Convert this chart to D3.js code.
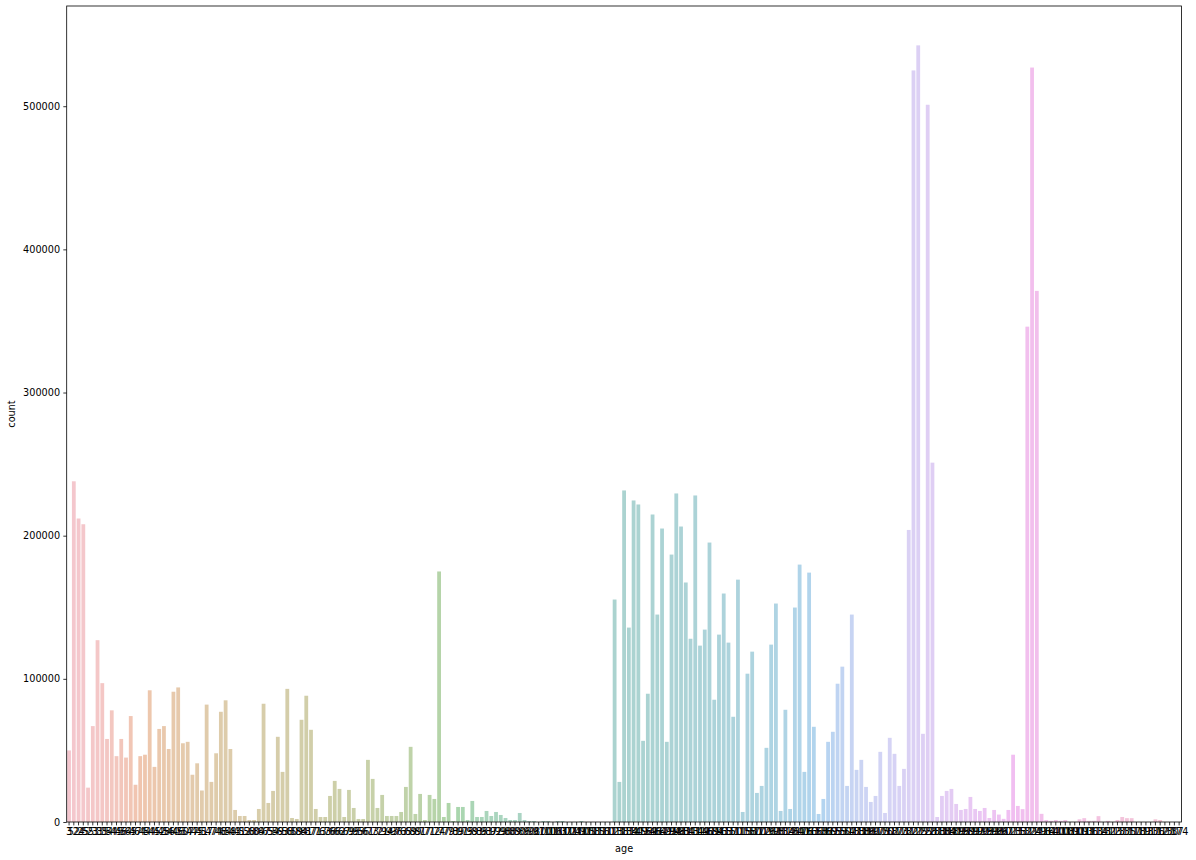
<!DOCTYPE html>
<html>
<head>
<meta charset="utf-8">
<script src="https://cdn.jsdelivr.net/npm/d3@7"></script>
<style>
  html, body { margin: 0; padding: 0; background: #fff; }
  svg text { font-family: "DejaVu Sans", sans-serif; fill: #000; }
</style>
</head>
<body>
<svg id="chart" width="1196" height="860"></svg>
<script>
// ---------- data ----------
const ageLabels = [
  "3","52","24","25","55","23","33","35","34","54",
  "45","46","54","65","47","64","44","54","45","42",
  "48","56","40","46","50","57","47","45","41","57",
  "47","74","48","64","58","43","41","52","58","60",
  "84","67","65","54","59","63","58","60","59","84",
  "81","87","71","73","63","76","66","62","67","69",
  "95","95","56","61","73","72","71","94","93","96",
  "73","65","69","89","81","77","71","72","74","77",
  "79","73","89","91","75","99","83","85","93","87",
  "92","99","98","88","89","80","86","90","98","97",
  "100","101","106","103","107","102","104","109","100","105",
  "108","115","116","110","112","113","138","113","134","130",
  "149","156","159","146","164","169","179","194","198","193",
  "184","143","131","149","146","169","184","193","163","157",
  "150","111","115","158","150","170","172","176","192","198",
  "181","134","126","134","140","176","163","166","158","136",
  "169","165","155","150","157","147","183","188","186","190",
  "197","175","170","162","187","173","172","182","177","125",
  "125","128","127","183","188","184","180","189","195","199",
  "189","197","190","195","199","198","196","197","107","123",
  "133","152","132","124","129","116","114","161","140","100",
  "108","109","100","109","103","106","113","114","121","131",
  "123","127","137","135","117","118","119","111","137","136",
  "112","127","130","137","174"
];

const counts = [
  50000,238000,212000,208000,24000,67000,127000,97000,58000,78000,
  46000,58000,45000,74000,26000,46000,47000,92000,38500,65000,
  67000,51000,91000,94000,55000,56000,33000,41000,22000,82000,
  28000,48000,77000,85000,51000,8400,4200,4200,1400,1400,
  9100,82600,13300,21700,59500,35000,93000,2800,2100,71400,
  88200,64400,9100,3500,3500,18200,28700,23100,3500,22400,
  9800,2100,2100,43400,30100,9800,18900,4200,4200,4200,
  7000,24500,52500,5600,19600,1400,18900,16100,175000,3500,
  13300,700,10500,10500,1400,14700,3500,3500,7700,4200,
  7000,4900,2800,1400,1400,6300,1400,700,700,0,
  700,700,0,700,700,0,0,0,700,0,
  0,0,0,0,0,155400,28000,231600,135800,224600,
  221800,56700,89600,214800,144900,205000,56000,186800,229500,206400,
  167300,128000,228100,123200,134400,195200,85400,130900,159600,125300,
  73500,169300,7000,103600,119000,20300,25200,51800,123900,152600,
  7700,78400,9100,149800,179800,35000,174200,66500,5600,16100,
  56000,63000,96600,108500,25200,144900,36400,43400,24500,14000,
  18200,49000,6300,58800,47600,25200,37100,204000,525000,542500,
  61600,501000,251000,3500,18200,21700,23100,12600,8400,9100,
  17500,9100,7700,9800,2800,8400,5200,2200,8400,47000,
  11200,9000,346000,527000,371000,5700,1400,800,1400,800,
  1400,0,0,1900,2700,800,800,4100,0,800,
  0,1400,3500,2700,2700,0,0,0,0,1900,
  1400,0,0,0,0
];

const yTicks = [0, 100000, 200000, 300000, 400000, 500000];

// ---------- HUSL (HSLuv) palette, seaborn style ----------
const M = [
  [3.2409699419045214, -1.5373831775700935, -0.49861076029300328],
  [-0.96924363628087983, 1.8759675015077207, 0.041555057407175613],
  [0.055630079696993609, -0.20397695888897657, 1.0569715142428786]
];
const refU = 0.19783000664283681, refV = 0.468319994938791;
const kappa = 903.2962962962963, epsilon = 0.0088564516790356308;
function getBounds(L) {
  const res = [];
  const sub1 = Math.pow(L + 16, 3) / 1560896;
  const sub2 = sub1 > epsilon ? sub1 : L / kappa;
  for (let c = 0; c < 3; c++) {
    const [m1, m2, m3] = M[c];
    for (let t = 0; t < 2; t++) {
      const top1 = (284517 * m1 - 94839 * m3) * sub2;
      const top2 = (838422 * m3 + 769860 * m2 + 731718 * m1) * L * sub2 - 769860 * t * L;
      const bottom = (632260 * m3 - 126452 * m2) * sub2 + 126452 * t;
      res.push([top1 / bottom, top2 / bottom]);
    }
  }
  return res;
}
function maxChroma(L, H) {
  const hrad = H / 360 * Math.PI * 2;
  let min = Infinity;
  for (const [slope, intercept] of getBounds(L)) {
    const len = intercept / (Math.sin(hrad) - slope * Math.cos(hrad));
    if (len >= 0) min = Math.min(min, len);
  }
  return min;
}
function fromLinear(c) {
  return c <= 0.0031308 ? 12.92 * c : 1.055 * Math.pow(c, 1 / 2.4) - 0.055;
}
function husl(H, S, L) {
  const C = maxChroma(L, H) / 100 * S;
  const hrad = H / 360 * Math.PI * 2;
  const U = Math.cos(hrad) * C, V = Math.sin(hrad) * C;
  const varU = U / (13 * L) + refU, varV = V / (13 * L) + refV;
  const Y = L <= 8 ? L / kappa : Math.pow((L + 16) / 116, 3);
  const X = 0 - (9 * Y * varU) / ((varU - 4) * varV - varU * varV);
  const Z = (9 * Y - 15 * varV * Y - varV * X) / (3 * varV);
  const rgb = M.map(r => fromLinear(r[0] * X + r[1] * Y + r[2] * Z));
  return d3.rgb(...rgb.map(v => Math.max(0, Math.min(1, v)) * 255));
}
const n = counts.length;
const palette = d3.range(n).map(i => {
  let h = (i / n + 0.01) % 1 * 359;
  const c = d3.hsl(husl(h, 0.9 * 99, 0.65 * 99));
  c.s *= 0.75;
  return c.formatHex();
});

// ---------- layout ----------
const margin = { left: 66.7, top: 6, right: 1196 - 1181.5, bottom: 860 - 822 };
const W = 1196 - margin.left - margin.right;
const H = 860 - margin.top - margin.bottom;
const svg = d3.select("#chart");
const g = svg.append("g").attr("transform", `translate(${margin.left},${margin.top})`);

const x = d3.scaleBand().domain(d3.range(n)).range([0, W]).paddingInner(0.2).paddingOuter(0.1);
const y = d3.scaleLinear().domain([0, 570000]).range([H, 0]);

g.selectAll("rect.bar").data(counts).join("rect")
  .attr("class", "bar")
  .attr("x", (d, i) => x(i))
  .attr("width", x.bandwidth())
  .attr("y", d => y(d))
  .attr("height", d => H - y(d))
  .attr("fill", (d, i) => palette[i])
  .attr("fill-opacity", 0.45);

const fs = 9.7;
const xAxis = g.append("g").attr("transform", `translate(0,${H})`)
  .call(d3.axisBottom(x).tickFormat(i => ageLabels[i]).tickSize(3.4).tickPadding(3.2).tickSizeOuter(0));
const yAxis = g.append("g")
  .call(d3.axisLeft(y).tickValues(yTicks).tickFormat(d3.format("d")).tickSize(3.4).tickPadding(3.2).tickSizeOuter(0));
[xAxis, yAxis].forEach(a => {
  a.select(".domain").remove();
  a.selectAll(".tick line").attr("stroke", "#000").attr("stroke-width", 0.8);
  a.selectAll(".tick text").attr("font-size", fs).attr("font-family", "DejaVu Sans, sans-serif").attr("fill", "#000");
});

// frame
g.append("rect").attr("x", 0).attr("y", 0).attr("width", W).attr("height", H)
  .attr("fill", "none").attr("stroke", "#000").attr("stroke-width", 0.8);

// axis titles
svg.append("text").attr("x", margin.left + W / 2).attr("y", 852)
  .attr("text-anchor", "middle").attr("font-size", fs).text("age");
svg.append("text").attr("transform", `translate(15,${margin.top + H / 2}) rotate(-90)`)
  .attr("text-anchor", "middle").attr("font-size", fs).text("count");
</script>
</body>
</html>
